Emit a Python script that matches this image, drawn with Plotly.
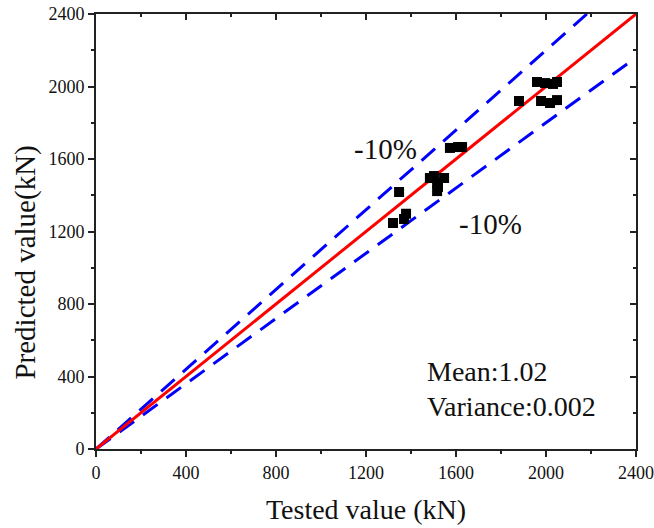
import plotly.graph_objects as go

# Tested vs. predicted capacity of specimens (kN)
tested = [1320, 1369, 1378, 1347, 1484, 1502, 1516, 1520, 1516, 1547,
          1573, 1609, 1627, 1880, 1960, 1996, 2031, 2049, 1978, 2018, 2049]
predicted = [1247, 1269, 1298, 1418, 1495, 1506, 1468, 1446, 1423, 1495,
             1661, 1666, 1666, 1920, 2025, 2019, 2014, 2025, 1920, 1909, 1925]

axis_max = 2400
ref_x = [0, axis_max]
upper_ratio = 1.1
lower_ratio = 0.9
tick_vals = [0, 400, 800, 1200, 1600, 2000, 2400]

FONT = "Liberation Serif, Times New Roman, serif"
AXIS_COLOR = "#222222"

fig = go.Figure()

# +/-10% bounds
fig.add_trace(go.Scatter(
    x=[0, axis_max / upper_ratio], y=[0, axis_max],
    mode="lines", line=dict(color="#0000ff", width=3, dash="18px,11px"),
    showlegend=False, hoverinfo="skip"))
fig.add_trace(go.Scatter(
    x=ref_x, y=[0, axis_max * lower_ratio],
    mode="lines", line=dict(color="#0000ff", width=3, dash="18px,11px"),
    showlegend=False, hoverinfo="skip"))
# y = x
fig.add_trace(go.Scatter(
    x=ref_x, y=ref_x,
    mode="lines", line=dict(color="#ff0000", width=3),
    showlegend=False, hoverinfo="skip"))
# specimens
fig.add_trace(go.Scatter(
    x=tested, y=predicted, mode="markers",
    marker=dict(symbol="square", size=10, color="black"),
    showlegend=False))
# carrier for the top/right frame axes
fig.add_trace(go.Scatter(
    x=[None], y=[None], xaxis="x2", yaxis="y2",
    showlegend=False, hoverinfo="skip"))

common = dict(
    range=[0, axis_max], tickvals=tick_vals, showgrid=False, zeroline=False,
    showline=True, linecolor=AXIS_COLOR, linewidth=2, automargin=False,
    tickcolor=AXIS_COLOR, tickwidth=2, ticklen=6,
    tickfont=dict(family=FONT, size=18, color="#111111"),
)

fig.update_layout(
    width=654, height=528,
    margin=dict(l=96, r=18, t=14, b=79),
    paper_bgcolor="white", plot_bgcolor="white",
    font=dict(family=FONT, color="#111111"),
    xaxis=dict(
        **common, ticks="outside",
        minor=dict(dtick=200, ticks="outside", ticklen=3, tickwidth=2,
                   tickcolor=AXIS_COLOR, showgrid=False),
        title=dict(text="Tested value (kN)", font=dict(family=FONT, size=28),
                   standoff=18)),
    yaxis=dict(
        **common, ticks="outside",
        minor=dict(dtick=200, ticks="outside", ticklen=3, tickwidth=2,
                   tickcolor=AXIS_COLOR, showgrid=False)),
    xaxis2=dict(
        **common, overlaying="x", side="top", ticks="inside",
        showticklabels=False,
        minor=dict(dtick=200, ticks="inside", ticklen=3, tickwidth=2,
                   tickcolor=AXIS_COLOR, showgrid=False)),
    yaxis2=dict(
        **common, overlaying="y", side="right", ticks="inside",
        showticklabels=False,
        minor=dict(dtick=200, ticks="inside", ticklen=3, tickwidth=2,
                   tickcolor=AXIS_COLOR, showgrid=False)),
)

# y-axis title, placed a little below the vertical centre
fig.add_annotation(x=-0.131, xref="paper", y=1030, yref="y",
                   text="Predicted value(kN)", textangle=-90, showarrow=False,
                   xanchor="center", yanchor="middle",
                   font=dict(family=FONT, size=29, color="#111111"))

ann_font = dict(family=FONT, size=29, color="#111111")
fig.add_annotation(x=1285, y=1655, text="-10%", showarrow=False, font=ann_font)
fig.add_annotation(x=1755, y=1240, text="-10%", showarrow=False, font=ann_font)
fig.add_annotation(x=1460, y=425, text="Mean:1.02", showarrow=False,
                   xanchor="left", font=dict(family=FONT, size=28, color="#111111"))
fig.add_annotation(x=1460, y=232, text="Variance:0.002", showarrow=False,
                   xanchor="left", font=dict(family=FONT, size=28, color="#111111"))

fig.write_html("out.html")
